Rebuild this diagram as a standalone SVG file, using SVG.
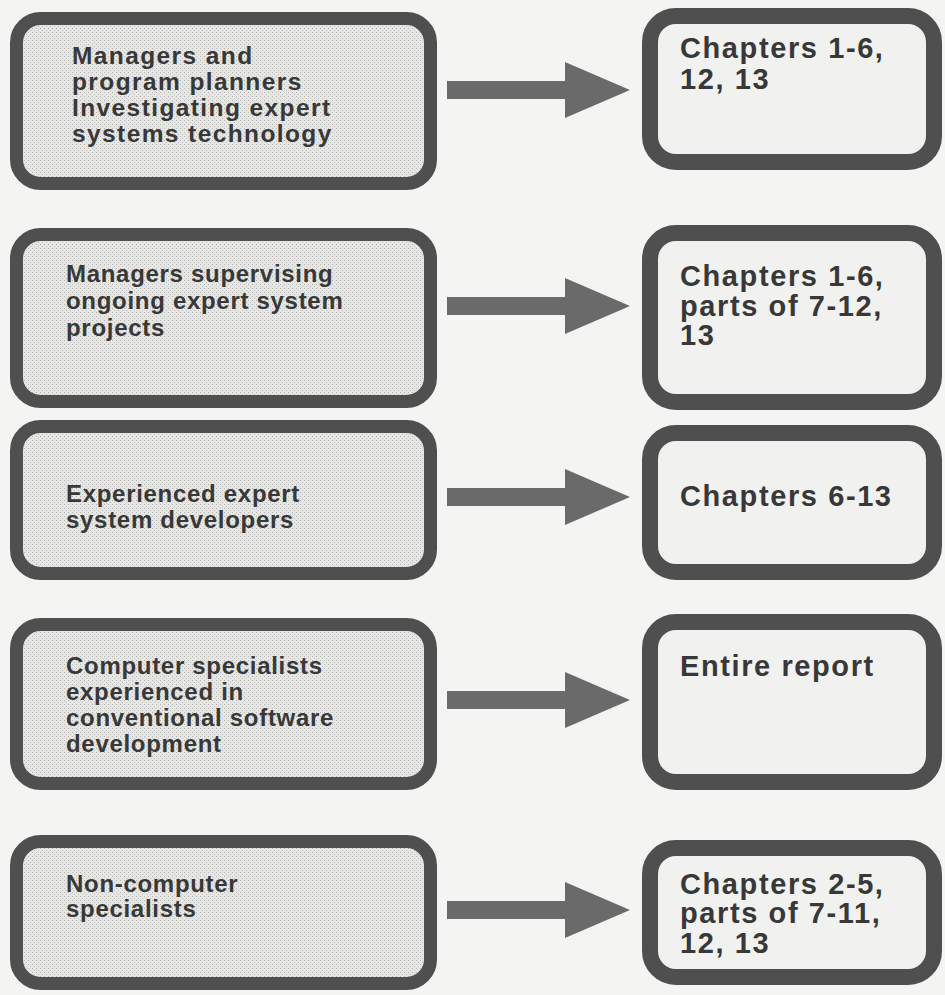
<svg xmlns="http://www.w3.org/2000/svg" width="945" height="995" viewBox="0 0 945 995">
<defs>
<pattern id="stipple" width="4" height="4" patternUnits="userSpaceOnUse">
<rect width="4" height="4" fill="#e6e6e4"/>
<rect x="0" y="0" width="1" height="1" fill="#b5b5b3"/>
<rect x="2" y="2" width="1" height="1" fill="#c4c4c2"/>
</pattern>
<style>
.aud{fill:url(#stipple);stroke:#4f4f4f;stroke-width:13}
.res{fill:#f1f1ef;stroke:#4f4f4f;stroke-width:16}
.t1{font-family:"Liberation Sans",Arial,sans-serif;font-weight:bold;font-size:24.5px;letter-spacing:1.4px;fill:#383838}
.tl{font-family:"Liberation Sans",Arial,sans-serif;font-weight:bold;font-size:24px;letter-spacing:0.7px;fill:#383838}
.tr{font-family:"Liberation Sans",Arial,sans-serif;font-weight:bold;font-size:29px;letter-spacing:1.6px;fill:#383838}
.arr{fill:#6a6a6a}
</style>
</defs>
<rect width="945" height="995" fill="#f4f4f2"/>

<g id="audience1">
<rect class="aud" x="16.5" y="18.5" width="414" height="165" rx="24"/>
<text class="t1" x="72" y="64">Managers and</text>
<text class="t1" x="72" y="90">program planners</text>
<text class="t1" x="72" y="116">Investigating expert</text>
<text class="t1" x="72" y="142">systems technology</text>
</g>
<g id="reading1">
<rect class="res" x="650" y="16" width="284" height="146" rx="26"/>
<text class="tr" x="680" y="58">Chapters 1-6,</text>
<text class="tr" x="680" y="89">12, 13</text>
</g>

<g id="audience2">
<rect class="aud" x="16.5" y="234.5" width="414" height="167" rx="24"/>
<text class="tl" x="66" y="282">Managers supervising</text>
<text class="tl" x="66" y="309">ongoing expert system</text>
<text class="tl" x="66" y="336">projects</text>
</g>
<g id="reading2">
<rect class="res" x="650" y="233" width="284" height="169" rx="26"/>
<text class="tr" x="680" y="286">Chapters 1-6,</text>
<text class="tr" x="680" y="316">parts of 7-12,</text>
<text class="tr" x="680" y="345">13</text>
</g>

<g id="audience3">
<rect class="aud" x="16.5" y="426.5" width="414" height="147" rx="24"/>
<text class="tl" x="66" y="502">Experienced expert</text>
<text class="tl" x="66" y="528">system developers</text>
</g>
<g id="reading3">
<rect class="res" x="650" y="433" width="284" height="139" rx="26"/>
<text class="tr" x="680" y="506">Chapters 6-13</text>
</g>

<g id="audience4">
<rect class="aud" x="16.5" y="624.5" width="414" height="159" rx="24"/>
<text class="tl" x="66" y="674">Computer specialists</text>
<text class="tl" x="66" y="700">experienced in</text>
<text class="tl" x="66" y="726">conventional software</text>
<text class="tl" x="66" y="752">development</text>
</g>
<g id="reading4">
<rect class="res" x="650" y="622" width="284" height="160" rx="26"/>
<text class="tr" x="680" y="676">Entire report</text>
</g>

<g id="audience5">
<rect class="aud" x="16.5" y="841.5" width="414" height="142" rx="24"/>
<text class="tl" x="66" y="892">Non-computer</text>
<text class="tl" x="66" y="917">specialists</text>
</g>
<g id="reading5">
<rect class="res" x="650" y="848" width="284" height="129" rx="26"/>
<text class="tr" x="680" y="894">Chapters 2-5,</text>
<text class="tr" x="680" y="923">parts of 7-11,</text>
<text class="tr" x="680" y="953">12, 13</text>
</g>

<g id="connectors">
<path class="arr" d="M447,81 L565,81 L565,62 L630,90 L565,118 L565,99 L447,99 Z"/>
<path class="arr" d="M447,297 L565,297 L565,278 L630,306 L565,334 L565,315 L447,315 Z"/>
<path class="arr" d="M447,488 L565,488 L565,469 L630,497 L565,525 L565,506 L447,506 Z"/>
<path class="arr" d="M447,691 L565,691 L565,672 L630,700 L565,728 L565,709 L447,709 Z"/>
<path class="arr" d="M447,901 L565,901 L565,882 L630,910 L565,938 L565,919 L447,919 Z"/>
</g>
</svg>
